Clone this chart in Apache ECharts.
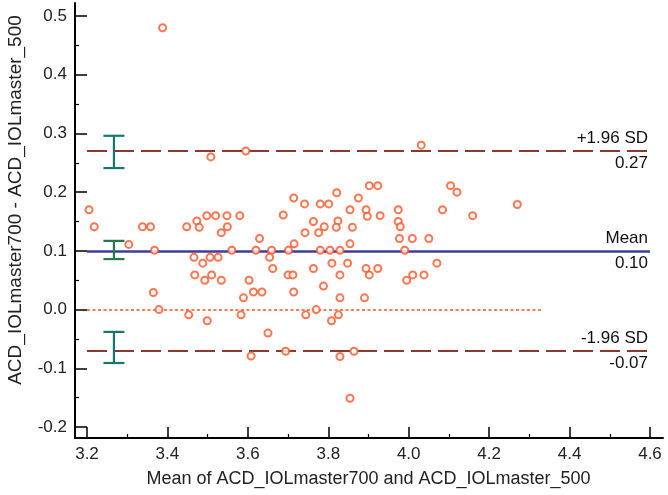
<!DOCTYPE html>
<html>
<head>
<meta charset="utf-8">
<script src="https://cdn.jsdelivr.net/npm/echarts@6/dist/echarts.min.js"></script>
<style>html,body{margin:0;padding:0;background:#fff;}#chart{width:668px;height:495px;}</style>
</head>
<body>
<div id="chart"></div>
<script>
// ---- data ----
const xTitle = 'Mean of ACD_IOLmaster700 and ACD_IOLmaster_500';
const yTitle = 'ACD_IOLmaster700 - ACD_IOLmaster_500';
const xMin = 3.2, xMax = 4.6, xStep = 0.2;
const yMin = -0.2, yMax = 0.5, yStep = 0.1;
const meanDiff = 0.10;
const upperLoA = 0.267;
const lowerLoA = -0.067;
const meanLabel = ['Mean', '0.10'];
const upperLabel = ['+1.96 SD', '0.27'];
const lowerLabel = ['-1.96 SD', '-0.07'];
const zeroLineEnd = 4.33;
const ciX = 3.267;
const ciLow  = [0.241, 0.086, -0.091];
const ciHigh = [0.296, 0.117, -0.038];

const xVals = [3.388,3.508,3.595,3.205,3.218,3.338,3.358,3.304,3.368,3.365,3.379,3.448,3.473,3.479,3.498,3.520,3.548,3.580,3.549,3.534,
  3.629,3.560,3.620,3.659,3.654,3.662,3.466,3.488,3.506,3.526,3.468,3.493,3.510,3.534,3.603,3.589,3.614,3.635,3.453,3.499,
  3.583,3.650,3.608,4.031,3.688,3.714,3.741,3.780,3.801,3.821,3.875,3.902,3.923,3.854,3.894,3.897,3.929,3.763,3.824,3.820,
  3.790,3.776,3.742,3.860,3.715,3.854,3.701,3.780,3.804,3.829,3.700,3.712,3.763,3.809,3.829,3.848,3.894,3.902,3.923,3.714,
  3.788,3.829,3.890,3.770,3.744,3.825,3.808,3.974,3.974,3.979,3.977,4.009,4.050,3.990,4.084,4.104,4.120,4.159,4.270,4.070,
  4.038,4.010,3.995,3.694,3.829,3.864,3.854];
const yVals = [0.48,0.26,0.27,0.170,0.141,0.141,0.141,0.111,0.101,0.029,0.000,0.141,0.151,0.140,0.160,0.160,0.160,0.160,0.141,0.131,
  0.121,0.101,0.101,0.101,0.089,0.070,0.089,0.079,0.089,0.089,0.059,0.050,0.059,0.050,0.050,0.020,0.030,0.030,-0.009,-0.019,
  -0.009,-0.040,-0.079,0.280,0.161,0.190,0.180,0.180,0.180,0.199,0.190,0.211,0.211,0.170,0.170,0.159,0.160,0.150,0.151,0.140,
  0.141,0.131,0.131,0.140,0.112,0.112,0.101,0.101,0.101,0.101,0.059,0.059,0.070,0.079,0.059,0.079,0.070,0.059,0.070,0.030,
  0.040,0.020,0.020,0.000,-0.009,-0.009,-0.019,0.170,0.150,0.141,0.121,0.121,0.121,0.101,0.170,0.211,0.200,0.160,0.179,0.079,
  0.059,0.059,0.050,-0.071,-0.080,-0.071,-0.151];

// ---- styles ----
const FONT = 'Liberation Sans, Arial, sans-serif';
const ptColor = '#ff5224';
const sdColor = '#8a3a2c';
const meanColor = '#3c3c99';
const ciColors = ['#17766b', '#237a4a', '#17766b'];

const points = xVals.map((x, i) => [x, yVals[i]]);
const ciData = ciLow.map((lo, i) => [ciX, lo, ciHigh[i]]);

function lineLabel(text, pos) {
  return { show: true, position: pos, formatter: text, color: '#111', fontSize: 17, fontFamily: FONT, distance: [2, 4] };
}
const hiddenLine = { color: 'rgba(0,0,0,0)', width: 0.01, type: 'solid' };

const chart = echarts.init(document.getElementById('chart'), null, { renderer: 'canvas' });
chart.setOption({
  animation: false,
  backgroundColor: '#fff',
  grid: [
    { left: 87, right: 18, top: 16, bottom: 68 },
    { left: 75, right: 5, top: 3, bottom: 57 }
  ],
  xAxis: [
    {
      gridIndex: 0, type: 'value', min: xMin, max: xMax, interval: xStep, offset: 11, position: 'bottom',
      axisLine: { show: false, onZero: false },
      axisTick: { show: true, inside: true, length: 11, lineStyle: { color: '#000', width: 1.5 } },
      minorTick: { show: true, splitNumber: 2, length: 4, lineStyle: { color: '#000', width: 1.2 } },
      axisLabel: { margin: 8, fontSize: 17, color: '#222', fontFamily: FONT, formatter: v => v.toFixed(1) },
      splitLine: { show: false },
      name: xTitle, nameLocation: 'middle', nameGap: 32,
      nameTextStyle: { fontSize: 18, color: '#222', fontFamily: FONT }
    },
    {
      gridIndex: 1, type: 'value', min: 0, max: 1, position: 'bottom',
      axisLine: { show: true, onZero: false, lineStyle: { color: '#000', width: 2 } },
      axisTick: { show: false }, axisLabel: { show: false }, splitLine: { show: false }
    }
  ],
  yAxis: [
    {
      gridIndex: 0, type: 'value', min: yMin, max: yMax, interval: yStep, offset: 12, position: 'left',
      axisLine: { show: false, onZero: false },
      axisTick: { show: true, inside: true, length: 12, lineStyle: { color: '#000', width: 1.5 } },
      minorTick: { show: true, splitNumber: 2, length: 4, lineStyle: { color: '#000', width: 1.2 } },
      axisLabel: { margin: 8, fontSize: 17, color: '#222', fontFamily: FONT, formatter: v => v.toFixed(1) },
      splitLine: { show: false }
    },
    {
      gridIndex: 1, type: 'value', min: 0, max: 1, position: 'left',
      axisLine: { show: true, onZero: false, lineStyle: { color: '#000', width: 2 } },
      axisTick: { show: false }, axisLabel: { show: false }, splitLine: { show: false }
    }
  ],
  graphic: [
    {
      type: 'text', x: 16, y: 200, rotation: Math.PI / 2,
      style: { text: yTitle, fill: '#222', font: '19px ' + FONT, textAlign: 'center', textVerticalAlign: 'middle' }
    }
  ],
  series: [
    {
      type: 'scatter', xAxisIndex: 0, yAxisIndex: 0,
      data: points,
      symbol: 'emptyCircle', symbolSize: 7,
      itemStyle: { color: ptColor, borderColor: ptColor, borderWidth: 1.6 },
      z: 5,
      markLine: {
        silent: true, symbol: 'none', animation: false,
        data: [
          [
            { coord: [xMin, 0], lineStyle: { color: ptColor, width: 1.5, type: [3, 2.5] }, label: { show: false } },
            { coord: [zeroLineEnd, 0] }
          ],
          { yAxis: meanDiff, lineStyle: { color: meanColor, width: 2.5, type: 'solid' }, label: lineLabel(meanLabel[0], 'insideEndTop') },
          { yAxis: meanDiff, lineStyle: hiddenLine, label: lineLabel(meanLabel[1], 'insideEndBottom') },
          { yAxis: upperLoA, lineStyle: { color: sdColor, width: 2, type: [20, 7] }, label: lineLabel(upperLabel[0], 'insideEndTop') },
          { yAxis: upperLoA, lineStyle: hiddenLine, label: lineLabel(upperLabel[1], 'insideEndBottom') },
          { yAxis: lowerLoA, lineStyle: { color: sdColor, width: 2, type: [20, 7] }, label: lineLabel(lowerLabel[0], 'insideEndTop') },
          { yAxis: lowerLoA, lineStyle: hiddenLine, label: lineLabel(lowerLabel[1], 'insideEndBottom') }
        ]
      }
    },
    {
      type: 'custom', xAxisIndex: 0, yAxisIndex: 0,
      data: ciData, z: 6, silent: true,
      renderItem: function (params, api) {
        const x = api.value(0), lo = api.value(1), hi = api.value(2);
        const pLo = api.coord([x, lo]);
        const pHi = api.coord([x, hi]);
        const hw = 10.5;
        const st = { stroke: ciColors[params.dataIndex], lineWidth: 2.2 };
        return {
          type: 'group',
          children: [
            { type: 'line', shape: { x1: pLo[0], y1: pLo[1], x2: pHi[0], y2: pHi[1] }, style: st },
            { type: 'line', shape: { x1: pLo[0] - hw, y1: pLo[1], x2: pLo[0] + hw, y2: pLo[1] }, style: st },
            { type: 'line', shape: { x1: pHi[0] - hw, y1: pHi[1], x2: pHi[0] + hw, y2: pHi[1] }, style: st }
          ]
        };
      }
    }
  ]
});
</script>
</body>
</html>
